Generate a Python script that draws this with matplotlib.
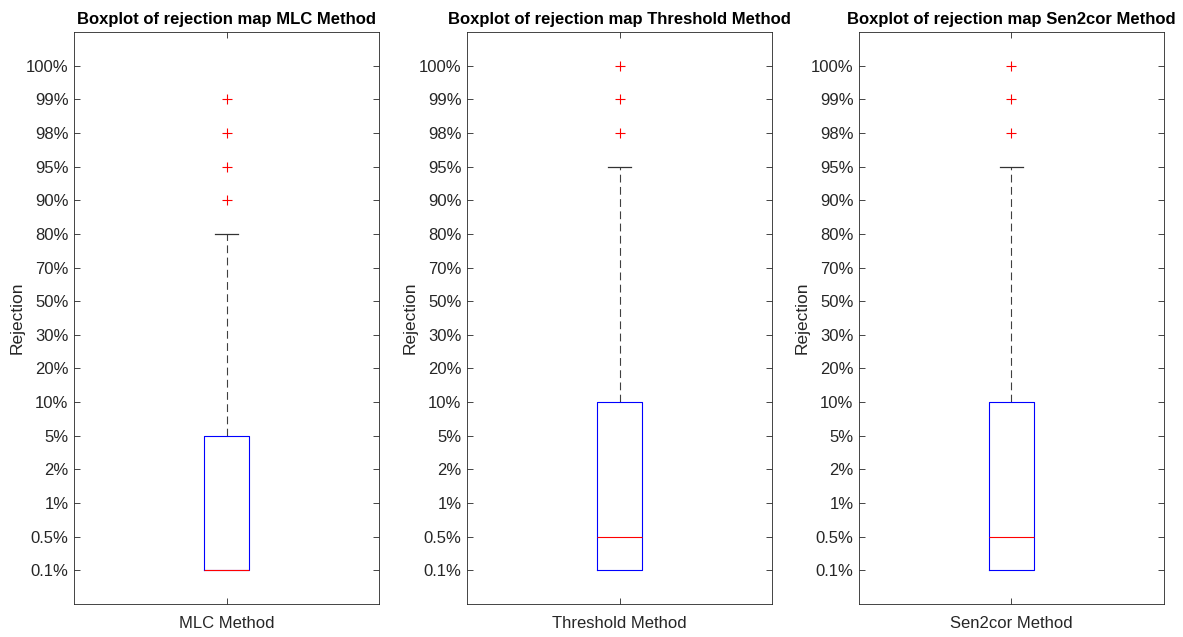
import numpy as np
import matplotlib.pyplot as plt

plt.rcParams['font.family'] = ['Liberation Sans', 'DejaVu Sans']

# rejection levels (categorical y axis, position = index + 1)
levels = ['0.1%', '0.5%', '1%', '2%', '5%', '10%', '20%', '30%', '50%',
          '70%', '80%', '90%', '95%', '98%', '99%', '100%']

methods = ['MLC Method', 'Threshold Method', 'Sen2cor Method']
# box statistics as level positions
whislo = [1, 1, 1]
q1 = [1, 1, 1]
med = [1, 2, 2]
q3 = [5, 6, 6]
whishi = [11, 13, 13]
fliers = [[12, 13, 14, 15], [14, 15, 16], [14, 15, 16]]

fig = plt.figure(figsize=(11.83, 6.37), dpi=100)
W, H = 1183, 637
lefts = [74, 467, 859]
width = 305
top, bottom = 32, 604

for i, name in enumerate(methods):
    ax = fig.add_axes([lefts[i] / W, (H - bottom) / H, width / W, (bottom - top) / H])
    stats = [dict(med=med[i], q1=q1[i], q3=q3[i], whislo=whislo[i],
                  whishi=whishi[i], fliers=fliers[i], label=name)]
    bp = ax.bxp(stats, positions=[1], widths=0.15, showfliers=True,
                boxprops=dict(color='blue', lw=0.8, zorder=3),
                medianprops=dict(color='red', lw=0.8, zorder=4),
                whiskerprops=dict(color='0.25', lw=0.8, ls=(0, (7, 4))),
                capprops=dict(color='0.2', lw=0.9),
                capwidths=0.075,
                flierprops=dict(marker='+', markeredgecolor='red', markersize=7,
                                markeredgewidth=0.8, linestyle='none'))
    # lower whisker collapses onto the box edge
    if whislo[i] == q1[i]:
        bp['caps'][0].set_visible(False)
        bp['whiskers'][0].set_visible(False)
    ax.set_xlim(0.5, 1.5)
    ax.set_ylim(0, 17)
    ax.set_yticks(np.arange(1, len(levels) + 1))
    ax.set_yticklabels(levels)
    ax.tick_params(direction='in', length=4, width=0.6, colors='0.15',
                   labelsize=12, top=True, right=True, pad=4)
    ax.tick_params(axis='x', pad=9)
    for s in ax.spines.values():
        s.set_color('0.15')
        s.set_linewidth(0.6)
    ax.set_ylabel('Rejection', fontsize=12.5, color='0.15', labelpad=1)
    ax.set_title('Boxplot of rejection map ' + name, fontsize=12,
                 fontweight='bold', pad=6)

plt.savefig('out.png', dpi=100)
